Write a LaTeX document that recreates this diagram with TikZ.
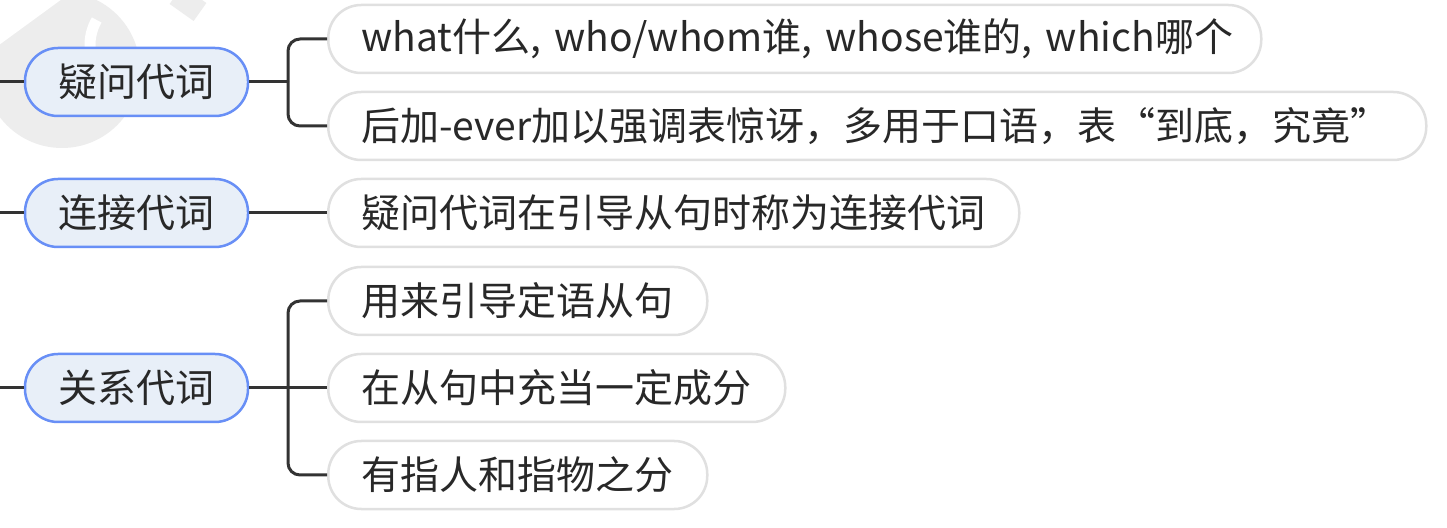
\documentclass[tikz,border=0pt]{standalone}
\usepackage{fontspec}
\setmainfont{Noto Sans CJK SC}
\definecolor{rootfill}{RGB}{232,239,248}
\definecolor{rootdraw}{RGB}{104,143,246}
\definecolor{kiddraw}{RGB}{224,224,224}
\definecolor{linec}{RGB}{51,51,51}
\definecolor{textc}{RGB}{40,40,40}
\definecolor{wmark}{RGB}{237,237,237}
\begin{document}
\begin{tikzpicture}[x=1pt,y=1pt,
  rootbox/.style={draw=rootdraw, line width=2.5pt, fill=rootfill, rounded corners=33pt,
    minimum width=223pt, minimum height=68pt, inner sep=0pt, text=textc,
    font=\fontsize{39}{46}\selectfont},
  kidbox/.style={draw=kiddraw, line width=2.5pt, fill=white, rounded corners=33pt,
    minimum height=68pt, inner xsep=33pt, inner ysep=0pt, anchor=west, text=textc,
    align=left, font=\fontsize{39}{46}\selectfont},
  conn/.style={draw=linec, line width=3pt},
]
\useasboundingbox (0,0) rectangle (1447,527);
\fill[white] (0,0) rectangle (1447,527);
% watermark
\begin{scope}
\clip (0,0) rectangle (1447,527);
\fill[wmark] (62,457) circle[radius=78];
\fill[white] (-1,528) -- (62,528) -- (-1,482) -- cycle;
\draw[white, line width=11pt] (96.7,507) arc[start angle=150, end angle=215, radius=50];
\draw[wmark, line width=22pt] (176,532) -- (200,515);
\end{scope}
% roots
\node[rootbox] (R1) at (136.5,445) {疑问代词};
\node[rootbox] (R2) at (136.5,314) {连接代词};
\node[rootbox] (R3) at (136.5,139) {关系代词};
% children
\node[kidbox, text width=867pt] (C1) at (327,488) {\mbox{what什么, who/whom谁, whose谁的, which哪个}};
\node[kidbox, text width=1032pt] (C2) at (327,401) {后加-ever加以强调表惊讶，多用于口语，表“到底，究竟”};
\node[kidbox, text width=625pt] (C3) at (327,314) {疑问代词在引导从句时称为连接代词};
\node[kidbox, text width=313pt] (C4) at (327,226) {用来引导定语从句};
\node[kidbox, text width=391pt] (C5) at (327,139) {在从句中充当一定成分};
\node[kidbox, text width=313pt] (C6) at (327,52) {有指人和指物之分};
% left stubs
\coordinate (L1) at (0,445);
\coordinate (L2) at (0,314);
\coordinate (L3) at (0,139);
\draw[conn] (L1) -- (R1.west);
\draw[conn] (L2) -- (R2.west);
\draw[conn] (L3) -- (R3.west);
% bracket points
\coordinate (B1) at (288,445);
\coordinate (B3) at (288,139);
\draw[conn] (R1.east) -- (B1);
\draw[conn, rounded corners=12pt] (B1) |- (C1.west);
\draw[conn, rounded corners=12pt] (B1) |- (C2.west);
\draw[conn] (R2.east) -- (C3.west);
\draw[conn] (R3.east) -- (B3);
\draw[conn, rounded corners=12pt] (B3) |- (C4.west);
\draw[conn] (B3) -- (C5.west);
\draw[conn, rounded corners=12pt] (B3) |- (C6.west);
\end{tikzpicture}
\end{document}
